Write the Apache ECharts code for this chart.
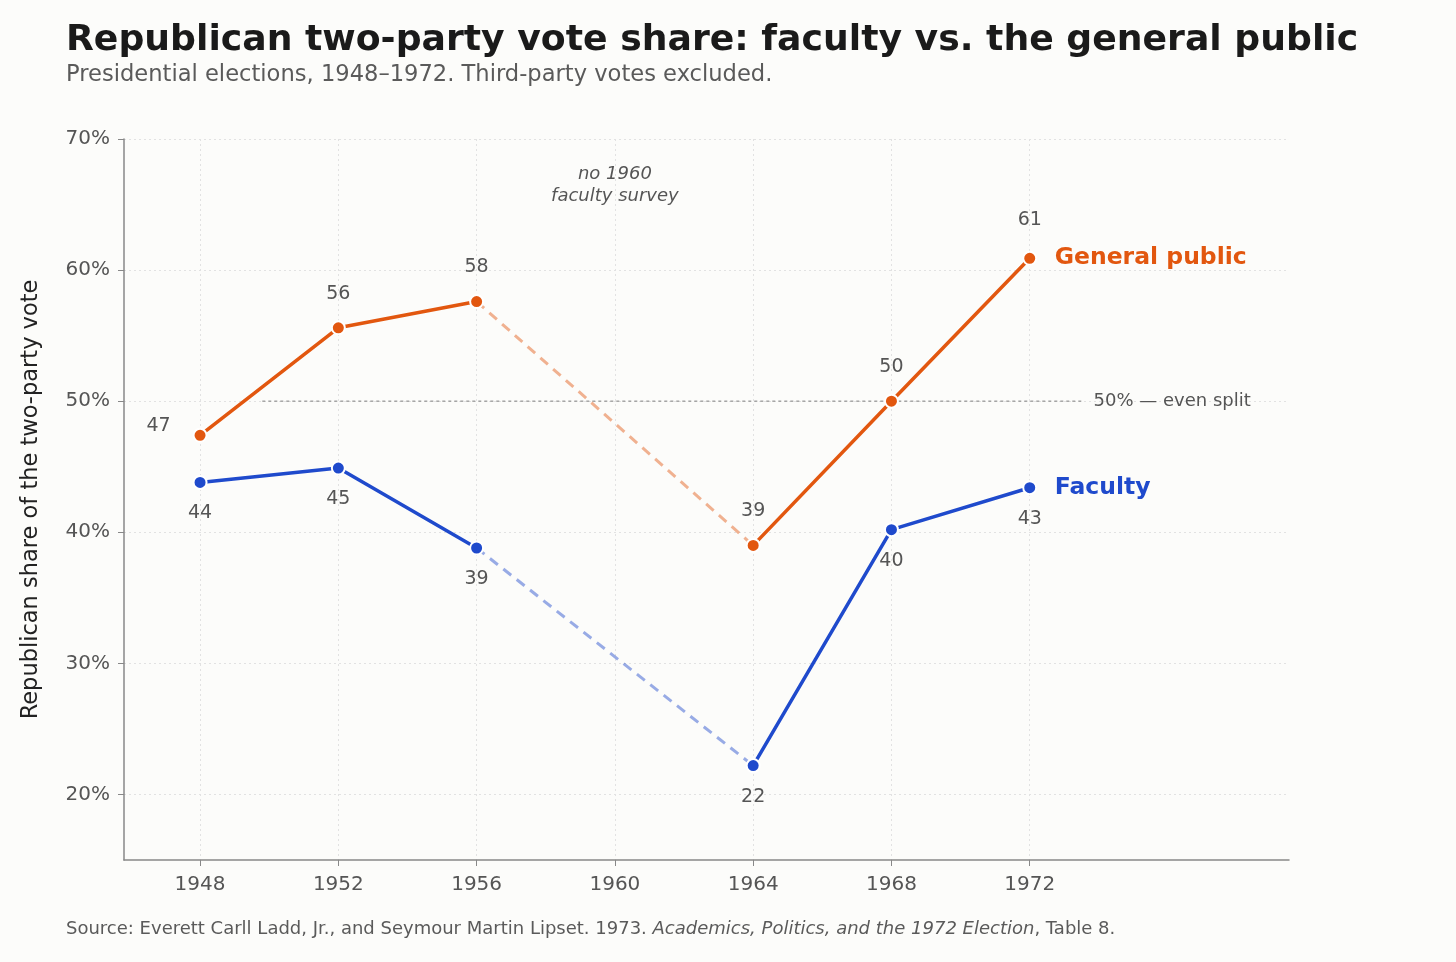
<!DOCTYPE html>
<html>
<head>
<meta charset="utf-8">
<script src="https://cdn.jsdelivr.net/npm/echarts@6/dist/echarts.min.js"></script>
<style>
  html, body { margin: 0; padding: 0; background: #fcfcfa; }
  #chart { width: 1456px; height: 962px; }
</style>
</head>
<body>
<div id="chart"></div>
<script>
// election years (1960 has no faculty survey)
const years = [1948, 1952, 1956, 1964, 1968, 1972];
const publicShare = [47.4, 55.6, 57.6, 39.0, 50.0, 60.9];
const facultyShare = [43.8, 44.9, 38.8, 22.2, 40.2, 43.4];
const xTicks = [1948, 1952, 1956, 1960, 1964, 1968, 1972];
const yTicks = [20, 30, 40, 50, 60, 70];
const evenSplit = { from: 1949.8, to: 1973.5, value: 50 };
const gapYear = 1960;

const ORANGE = '#e2570f';
const BLUE = '#1f4acc';
const FONT = 'DejaVu Sans';

// solid parts, with a break at the missing 1960 point
function solidData(vals) {
  const out = [];
  years.forEach((y, i) => {
    if (y === 1964) out.push([gapYear, null]);
    out.push([y, vals[i]]);
  });
  return out;
}
// dashed bridge across 1960
function bridgeData(vals) {
  const a = years.indexOf(1956), b = years.indexOf(1964);
  return [[years[a], vals[a]], [years[b], vals[b]]];
}

function labelled(data, pos) {
  return data.map(d => {
    if (d[1] == null) return d;
    const item = { value: d, label: { show: true, position: pos } };
    if (pos === 'top' && d[0] === 1948) {
      item.label = { show: true, position: 'left', offset: [-5, -9] };
    }
    if (pos === 'top' && d[0] === 1972) item.label.distance = 21;
    return item;
  });
}

const chart = echarts.init(document.getElementById('chart'));

chart.setOption({
  backgroundColor: '#fcfcfa',
  textStyle: { fontFamily: FONT },
  animation: false,
  title: [
    {
      text: 'Republican two-party vote share: faculty vs. the general public',
      left: 66, top: 23, padding: 0,
      textStyle: { fontFamily: FONT, fontSize: 36.2, fontWeight: 'bold', color: '#1a1a1a' }
    },
    {
      text: 'Presidential elections, 1948–1972. Third-party votes excluded.',
      left: 66, top: 64, padding: 0,
      textStyle: { fontFamily: FONT, fontSize: 22.6, fontWeight: 'normal', color: '#5a5a5a' }
    },
    {
      text: '{n|Source: Everett Carll Ladd, Jr., and Seymour Martin Lipset. 1973. }{i|Academics, Politics, and the 1972 Election}{n|, Table 8.}',
      left: 66, top: 920, padding: 0,
      textStyle: {
        fontWeight: 'normal',
        rich: {
          n: { fontFamily: FONT, fontSize: 18, fontWeight: 'normal', color: '#5a5a5a' },
          i: { fontFamily: FONT, fontSize: 18, fontWeight: 'normal', color: '#5a5a5a', fontStyle: 'italic' }
        }
      }
    }
  ],
  grid: { left: 124, right: 167, top: 139, bottom: 102 },
  xAxis: {
    type: 'value',
    min: 1945.8, max: 1979.5,
    axisLine: { show: true, lineStyle: { color: '#888', width: 1.5 } },
    axisTick: { show: true, customValues: xTicks, length: 6, lineStyle: { color: '#888' } },
    axisLabel: {
      customValues: xTicks, color: '#555', fontSize: 20, margin: 15,
      formatter: v => String(v)
    },
    splitLine: {
      show: true, customValues: xTicks,
      lineStyle: { color: '#e2e2e2', type: [2, 3], width: 1 }
    }
  },
  yAxis: {
    type: 'value',
    min: 15, max: 70,
    name: 'Republican share of the two-party vote',
    nameLocation: 'middle', nameGap: 81, nameRotate: 90,
    nameTextStyle: { fontFamily: FONT, fontSize: 22.5, color: '#222' },
    axisLine: { show: true, lineStyle: { color: '#888', width: 1.5 } },
    axisTick: { show: true, customValues: yTicks, length: 6, lineStyle: { color: '#888' } },
    axisLabel: {
      customValues: yTicks, color: '#555', fontSize: 20, margin: 14,
      formatter: v => v + '%'
    },
    splitLine: {
      show: true, customValues: yTicks,
      lineStyle: { color: '#e2e2e2', type: [2, 3], width: 1 }
    }
  },
  series: [
    {
      name: '50% reference',
      type: 'line',
      data: [[evenSplit.from, evenSplit.value], [evenSplit.to, evenSplit.value]],
      symbol: 'none',
      lineStyle: { color: '#999', width: 1.3, type: [3, 3] },
      silent: true, z: 1,
      endLabel: {
        show: true, formatter: '50% — even split', distance: 12,
        fontFamily: FONT, fontSize: 18, color: '#555'
      }
    },
    {
      name: 'public-bridge',
      type: 'line',
      data: bridgeData(publicShare),
      symbol: 'none',
      lineStyle: { color: ORANGE, opacity: 0.45, width: 3, type: [10, 7] },
      z: 2
    },
    {
      name: 'faculty-bridge',
      type: 'line',
      data: bridgeData(facultyShare),
      symbol: 'none',
      lineStyle: { color: BLUE, opacity: 0.45, width: 3, type: [10, 7] },
      z: 2
    },
    {
      name: 'General public',
      type: 'line',
      data: labelled(solidData(publicShare), 'top'),
      connectNulls: false,
      symbol: 'circle', symbolSize: 13,
      itemStyle: { color: ORANGE, borderColor: '#fff', borderWidth: 2 },
      lineStyle: { color: ORANGE, width: 3.5 },
      label: {
        fontFamily: FONT, fontSize: 19, color: '#555', distance: 17,
        formatter: p => Math.round(p.value[1])
      },
      endLabel: {
        show: true, formatter: 'General public', distance: 25,
        fontFamily: FONT, fontSize: 23.5, fontWeight: 'bold', color: ORANGE
      },
      z: 4
    },
    {
      name: 'Faculty',
      type: 'line',
      data: labelled(solidData(facultyShare), 'bottom'),
      connectNulls: false,
      symbol: 'circle', symbolSize: 13,
      itemStyle: { color: BLUE, borderColor: '#fff', borderWidth: 2 },
      lineStyle: { color: BLUE, width: 3.5 },
      label: {
        fontFamily: FONT, fontSize: 19, color: '#555', distance: 14,
        formatter: p => Math.round(p.value[1])
      },
      endLabel: {
        show: true, formatter: 'Faculty', distance: 25,
        fontFamily: FONT, fontSize: 23.5, fontWeight: 'bold', color: BLUE
      },
      markPoint: {
        symbol: 'circle', symbolSize: 0,
        data: [{ coord: [gapYear, 66.5], value: 0 }],
        label: {
          show: true, position: 'inside',
          formatter: 'no 1960\nfaculty survey',
          fontFamily: FONT, fontSize: 18, fontStyle: 'italic', color: '#555',
          lineHeight: 22, align: 'center'
        }
      },
      z: 4
    }
  ]
});
</script>
</body>
</html>
